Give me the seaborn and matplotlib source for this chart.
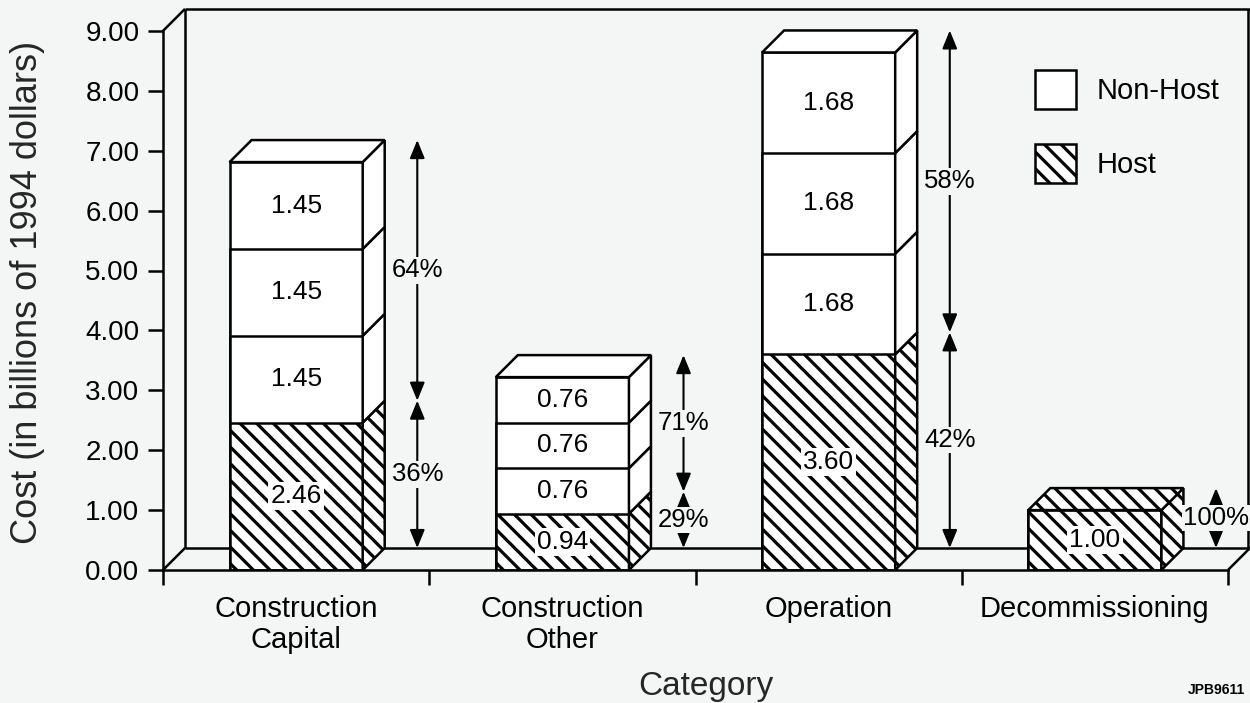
import matplotlib
matplotlib.use("Agg")
import matplotlib.pyplot as plt
from matplotlib.patches import Patch, Polygon
import seaborn as sns

# ---- data -------------------------------------------------------------
categories = ["Construction\nCapital", "Construction\nOther", "Operation", "Decommissioning"]
host = [2.46, 0.94, 3.60, 1.00]                 # host share (billions of 1994 $)
nonhost_piece = [1.45, 0.76, 1.68, 0.00]        # each non-host block
pieces_per_bar = 3
yticks = [0, 1, 2, 3, 4, 5, 6, 7, 8, 9]
legend_labels = ["Non-Host", "Host"]

# ---- style ------------------------------------------------------------
BG = "#f4f6f5"
INK = "black"
HATCH = "\\\\"
LW = 1.8

sns.set_theme(style="ticks")
plt.rcParams.update({
    "font.family": ["Liberation Sans", "DejaVu Sans"],
    "hatch.linewidth": 2.3,
    "hatch.color": INK,
    "axes.edgecolor": INK,
    "text.color": INK,
    "xtick.color": INK,
    "ytick.color": INK,
})

W, H = 1250, 703
fig = plt.figure(figsize=(W / 100, H / 100), dpi=100, facecolor=BG)

# axes frame in pixels: left, right, bottom (y=0), top
L, R, B, T = 163, 1250, 570, 9
ax = fig.add_axes([L / W, (H - B) / H, (R - L) / W, (B - T) / H])
ax.set_facecolor("none")

PX_X = 266.25        # pixels per category
PX_Y = 59.9          # pixels per billion

# depth of the pseudo-3D extrusion, in data units
DX = 22 / PX_X
DY = 22 / PX_Y
BAR_W = 0.5
n = len(categories)
x_lo, x_hi = -0.5, n - 0.5
y_top = yticks[-1]

# ---- back wall and floor ----------------------------------------------
frame_kw = dict(color=INK, lw=LW, clip_on=False, zorder=0.5, solid_capstyle="butt")
ax.plot([x_lo, x_lo + DX], [0, DY], **frame_kw)
ax.plot([x_lo, x_lo + DX], [y_top, y_top + DY], **frame_kw)
ax.plot([x_lo + DX, x_lo + DX], [DY, y_top + DY], **frame_kw)
ax.plot([x_lo + DX, x_hi + DX], [y_top + DY, y_top + DY], **frame_kw)
ax.plot([x_lo + DX, x_hi + DX], [DY, DY], **frame_kw)
ax.plot([x_hi, x_hi + DX], [0, DY], **frame_kw)
ax.plot([x_hi + DX - 0.008, x_hi + DX - 0.008], [DY, y_top + DY], **frame_kw)

# ---- front faces: cumulative bars drawn tallest first -------------------
for k in range(pieces_per_bar, 0, -1):
    level = [h + k * p for h, p in zip(host, nonhost_piece)]
    sns.barplot(x=categories, y=level, color="white", saturation=1, width=BAR_W,
                edgecolor=INK, linewidth=LW, errorbar=None, ax=ax, zorder=3)
sns.barplot(x=categories, y=host, color="white", saturation=1, width=BAR_W,
            edgecolor=INK, linewidth=LW, errorbar=None, hatch=HATCH, ax=ax, zorder=3)

# seaborn resets the categorical limits, so fix the data window afterwards
ax.set_xlim(-0.5, -0.5 + (R - L) / PX_X)
ax.set_ylim(0, (B - T) / PX_Y)

# ---- side and top faces ------------------------------------------------
for i in range(n):
    x0, x1 = i - BAR_W / 2, i + BAR_W / 2
    bounds = [0, host[i]]
    if nonhost_piece[i] > 0:
        bounds += [host[i] + k * nonhost_piece[i] for k in range(1, pieces_per_bar + 1)]
    for j, (b, t) in enumerate(zip(bounds[:-1], bounds[1:])):
        side = Polygon([(x1, b), (x1 + DX, b + DY), (x1 + DX, t + DY), (x1, t)],
                       closed=True, facecolor="white", edgecolor=INK, lw=LW,
                       hatch=HATCH if j == 0 else None, zorder=3, joinstyle="miter")
        ax.add_patch(side)
    top = bounds[-1]
    lid = Polygon([(x0, top), (x0 + DX, top + DY), (x1 + DX, top + DY), (x1, top)],
                  closed=True, facecolor="white", edgecolor=INK, lw=LW,
                  hatch=HATCH if len(bounds) == 2 else None, zorder=3, joinstyle="miter")
    ax.add_patch(lid)

# ---- values written on the blocks --------------------------------------
VAL_FS = 19
for i in range(n):
    ax.text(i, host[i] / 2, f"{host[i]:.2f}", ha="center", va="center", fontsize=VAL_FS,
            zorder=5, bbox=dict(boxstyle="square,pad=0.08", fc="white", ec="none"))
    if nonhost_piece[i] > 0:
        for k in range(pieces_per_bar):
            yc = host[i] + (k + 0.5) * nonhost_piece[i]
            ax.text(i, yc, f"{nonhost_piece[i]:.2f}", ha="center", va="center",
                    fontsize=VAL_FS, zorder=5)

# ---- share arrows -------------------------------------------------------
ARROW_X = 0.455
arrow_kw = dict(arrowstyle="<|-|>,head_length=1.1,head_width=0.45", color=INK, lw=1.5,
                shrinkA=0, shrinkB=0, mutation_scale=10)
for i in range(n):
    total = host[i] + pieces_per_bar * nonhost_piece[i]
    xa = i + ARROW_X
    spans = [(0, host[i], host[i] / total)]
    if nonhost_piece[i] > 0:
        spans.append((host[i], total, pieces_per_bar * nonhost_piece[i] / total))
    for b, t, share in spans:
        ax.annotate("", xy=(xa, t + DY), xytext=(xa, b + DY), arrowprops=arrow_kw,
                    annotation_clip=False, zorder=4)
        ax.text(xa, (b + t) / 2 + DY, f"{share * 100:.0f}%", ha="center", va="center",
                fontsize=18.5, zorder=5,
                bbox=dict(boxstyle="square,pad=0.05", fc=BG, ec="none"))

# ---- axes, ticks, labels -----------------------------------------------
for side in ("top", "right"):
    ax.spines[side].set_visible(False)
ax.spines["left"].set_bounds(0, y_top)
ax.spines["bottom"].set_bounds(x_lo, x_hi)
for side in ("left", "bottom"):
    ax.spines[side].set_linewidth(LW)
    ax.spines[side].set_zorder(4)

ax.set_yticks(yticks)
ax.set_yticklabels([f"{v:.2f}" for v in yticks])
ax.tick_params(axis="y", length=11, width=LW, pad=6, labelsize=20, left=True)

ax.set_xticks([x_lo + k for k in range(n + 1)])
ax.set_xticklabels([])
ax.set_xticks(range(n), minor=True)
ax.set_xticklabels(categories, minor=True, linespacing=1.15)
ax.tick_params(axis="x", which="major", length=11, width=LW, bottom=True)
ax.tick_params(axis="x", which="minor", length=0, pad=18, labelsize=21)

ax.set_xlabel("Category", fontsize=24)
ax.xaxis.set_label_coords((706 - L) / (R - L), (B - 686) / (B - T))
ax.xaxis.label.set_va("center")
ax.set_ylabel("Cost (in billions of 1994 dollars)", fontsize=26)
ax.yaxis.set_label_coords((28 - L) / (R - L), (B - 292) / (B - T))
ax.yaxis.label.set_va("center")

# ---- legend -------------------------------------------------------------
handles = [Patch(facecolor="white", edgecolor=INK, lw=LW, label=legend_labels[0]),
           Patch(facecolor="white", edgecolor=INK, lw=LW, hatch=HATCH, label=legend_labels[1])]
fig.legend(handles=handles, loc="upper left", bbox_to_anchor=(1035 / W, 1 - 70 / H),
           frameon=False, fontsize=21, handlelength=1.4, handleheight=1.68,
           handletextpad=0.72, labelspacing=1.2, borderpad=0, borderaxespad=0)

fig.text(1245 / W, 1 - 690 / H, "JPB9611", ha="right", va="center",
         fontsize=10, fontweight="bold")

fig.savefig("out.png", dpi=100, facecolor=BG)
